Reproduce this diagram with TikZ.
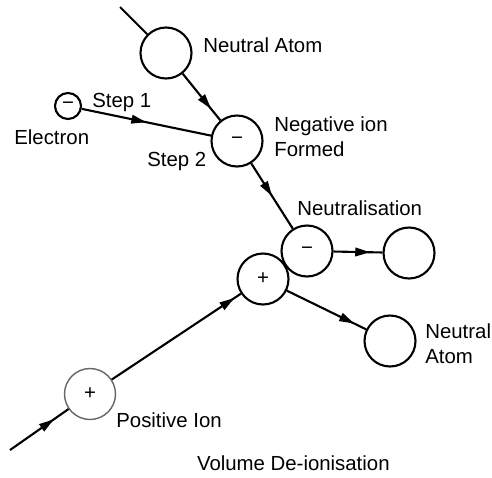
\documentclass[tikz,border=0pt]{standalone}
\usepackage{fontspec}
\setmainfont{Liberation Sans}
\usetikzlibrary{arrows.meta,decorations.markings}
\tikzset{
  particle/.style={circle,draw,line width=1.2pt,minimum size=1.02cm,inner sep=0pt},
  ionfaint/.style={particle,draw=black!60,line width=0.8pt},
  electron/.style={circle,draw,line width=1.2pt,minimum size=0.52cm,inner sep=0pt},
  lbl/.style={anchor=west,align=left,inner sep=0pt},
  flow/.style={postaction={decorate},decoration={markings,
    mark=at position #1 with {\arrow{Triangle[length=3mm,width=1.7mm]}}}},
}
\begin{document}
\begin{tikzpicture}[x=0.02cm,y=-0.02cm,font=\fontsize{11.6}{14}\selectfont]
  \useasboundingbox (0,0) rectangle (492,477);
  \path
    (166,53) node[particle] (atomA){}
    (68,106) node[electron] (electron){−}
    (237,141) node[particle] (negion){−}
    (307,251) node[particle] (negN){−}
    (263,279) node[particle] (posN){+}
    (409,253) node[particle] (atomB){}
    (390,341) node[particle] (atomC){}
    (90,394) node[ionfaint] (posion){+};
  \coordinate (inA) at (120,7);
  \coordinate (inB) at (10,450);
  % labels
  \path
    (203,45) node[lbl] (tAtomA){Neutral Atom}
    (92,102) node[lbl] (tStep1){Step 1}
    (14,137) node[lbl] (tElectron){Electron}
    (147,161) node[lbl] (tStep2){Step 2}
    (274,137) node[lbl] (tNegion){Negative ion\\Formed}
    (297,208) node[lbl] (tNeutral){Neutralisation}
    (425,344) node[lbl] (tAtomC){Neutral\\Atom}
    (116,420) node[lbl] (tPosion){Positive Ion}
    (390,463) node[lbl,anchor=east] (tTitle){Volume De-ionisation};
  \begin{scope}[line width=1.2pt]
    \draw (inA) -- (atomA);
    \draw[flow=0.75] (atomA) -- (negion);
    \draw[flow=0.5] (electron) -- (negion);
    \draw[flow=0.5] (negion) -- (negN);
    \draw[flow=0.75] (negN) -- (atomB);
    \draw[flow=0.85] (posN) -- (atomC);
    \draw[flow=0.95] (posion) -- (posN);
    \draw[flow=0.75] (inB) -- (posion);
  \end{scope}
\end{tikzpicture}
\end{document}
